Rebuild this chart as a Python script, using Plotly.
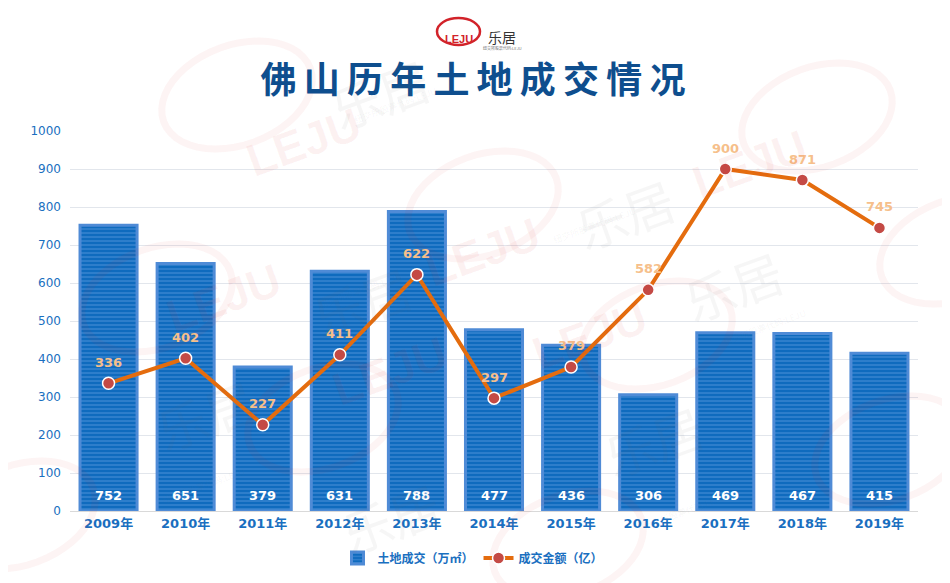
import math
import plotly.graph_objects as go

years = ["2009年", "2010年", "2011年", "2012年", "2013年", "2014年", "2015年", "2016年", "2017年", "2018年", "2019年"]
land_area = [752, 651, 379, 631, 788, 477, 436, 306, 469, 467, 415]
deal_amount = [336, 402, 227, 411, 622, 297, 379, 582, 900, 871, 745]
y_ticks = [0, 100, 200, 300, 400, 500, 600, 700, 800, 900, 1000]

BLUE = "#1A6FC0"
CJK = "Noto Sans CJK SC"
NUM = "DejaVu Sans, Noto Sans CJK SC"

W, H = 950, 583
OFF = 8  # page offset of the figure
L, R, T, B = 62, 40, 123, 80
PW, PH = W - L - R, H - T - B


def px(x):
    return (x - OFF - L) / PW


def py(y):
    return (H - B - (y - OFF)) / PH


fig = go.Figure()

fig.add_trace(go.Bar(
    x=years, y=land_area, name="<b>土地成交（万㎡）</b>",
    marker=dict(
        color="#0F6BBE",
        line=dict(color="#4F8BD6", width=3),
        pattern=dict(shape="-", fgcolor="#74AAEA", bgcolor="#0F6BBE", size=4, solidity=0.3),
    ),
    width=0.74,
    hoverinfo="skip",
))

fig.add_trace(go.Scatter(
    x=years, y=deal_amount, name="<b>成交金额（亿）</b>",
    mode="lines+markers",
    line=dict(color="#E46C0E", width=4),
    marker=dict(color="#C44A45", size=12, line=dict(color="white", width=1.5)),
    hoverinfo="skip",
))

annotations = []
for yr, v in zip(years, land_area):
    annotations.append(dict(x=yr, y=0, xref="x", yref="y", text=f"<b>{v}</b>", showarrow=False,
                            yanchor="middle", yshift=16,
                            font=dict(size=13, color="white", family=NUM)))
for yr, v in zip(years, deal_amount):
    annotations.append(dict(x=yr, y=v, xref="x", yref="y", text=f"<b>{v}</b>", showarrow=False,
                            yanchor="middle", yshift=21,
                            font=dict(size=13, color="#F6BF8B", family=NUM)))

# logo
annotations.append(dict(x=px(458.5), y=py(31), xref="paper", yref="paper", text="<b>LEJU</b>",
                        showarrow=False, font=dict(size=11, color="#D2232A", family="Liberation Sans")))
annotations.append(dict(x=px(502), y=py(25), xref="paper", yref="paper", text="乐居",
                        showarrow=False, font=dict(size=14, color="#333333", family=CJK)))
annotations.append(dict(x=px(502), y=py(43), xref="paper", yref="paper", text="纽交所股票代码:LEJU",
                        showarrow=False, font=dict(size=4, color="#777777", family=CJK)))

# watermarks
WM_RED = "rgba(220,40,40,0.05)"
WM_RED_T = "rgba(220,40,40,0.06)"
WM_GRAY = "rgba(110,110,110,0.06)"
ellipse_centers = [(237, 95), (483, 205), (817, 117), (157, 298), (323, 418), (20, 515),
                   (657, 335), (890, 450), (955, 250), (568, 545)]
text_centers = [(380, 40), (625, 160), (300, 248), (143, 467), (795, 285), (715, 493), (390, 570)]

shapes = []
ang = math.radians(20)
for cx, cy in ellipse_centers:
    pts = []
    for k in range(49):
        t = 2 * math.pi * k / 48
        ex, ey = 78 * math.cos(t), 50 * math.sin(t)
        rx = cx + ex * math.cos(ang) + ey * math.sin(ang)
        ry = cy - ex * math.sin(ang) + ey * math.cos(ang)
        pts.append(f"{px(rx):.5f},{py(ry):.5f}")
    shapes.append(dict(type="path", xref="paper", yref="paper", layer="above",
                       path="M" + " L".join(pts) + " Z", line=dict(color=WM_RED, width=7)))
    if 60 < cx < 890 and cy < 540:
        annotations.append(dict(x=px(cx), y=py(cy), xref="paper", yref="paper", text="<b>LEJU</b>",
                                textangle=-20, showarrow=False,
                                font=dict(size=46, color=WM_RED_T, family="Liberation Sans")))
for cx, cy in text_centers:
    annotations.append(dict(x=px(cx), y=py(cy), xref="paper", yref="paper", text="乐居",
                            textangle=-20, showarrow=False,
                            font=dict(size=50, color=WM_GRAY, family=CJK)))
    if cy < 540:
        annotations.append(dict(x=px(cx + 15), y=py(cy + 42), xref="paper", yref="paper",
                                text="纽交所股票代码:LEJU", textangle=-20, showarrow=False,
                                font=dict(size=9, color=WM_GRAY, family=CJK)))

fig.add_shape(type="circle", xref="paper", yref="paper",
              x0=px(437), x1=px(480), y0=py(45), y1=py(18),
              line=dict(color="#D2232A", width=2.5))
for s in shapes:
    fig.add_shape(**s)

title_text = "\u2009".join(list("佛山历年土地成交情况"))

fig.update_layout(
    width=W, height=H,
    paper_bgcolor="white", plot_bgcolor="white",
    margin=dict(l=L, r=R, t=T, b=B, autoexpand=False),
    font=dict(family=CJK, color=BLUE),
    title=dict(text="<b>" + title_text + "</b>", x=(473 - OFF) / W, xref="container", xanchor="center",
               y=1 - (80 - OFF) / H, yref="container", yanchor="middle",
               font=dict(size=36, color="#0E4E8E", family=CJK)),
    showlegend=True,
    legend=dict(orientation="h", x=px(473), xanchor="center", y=py(558), yanchor="middle",
                font=dict(size=12, color=BLUE, family=CJK), traceorder="normal",
                itemwidth=30, bgcolor="rgba(0,0,0,0)"),
    xaxis=dict(range=[-0.5, 10.5], autorange=False, showgrid=False, showline=True,
               linecolor="#D9D9D9", linewidth=1, automargin=False,
               tickfont=dict(size=13, color=BLUE, family=NUM), ticks="",
               tickprefix="<b>", ticksuffix="</b>"),
    yaxis=dict(range=[0, 1000], autorange=False, tickvals=y_ticks, showgrid=True,
               gridcolor="#E2E6EC", zeroline=False, ticks="", automargin=False,
               tickfont=dict(size=12, color=BLUE, family=NUM),
               tickprefix="<b>", ticksuffix="</b>", ticklabelstandoff=8),
    annotations=annotations,
)

fig.write_html("out.html")
